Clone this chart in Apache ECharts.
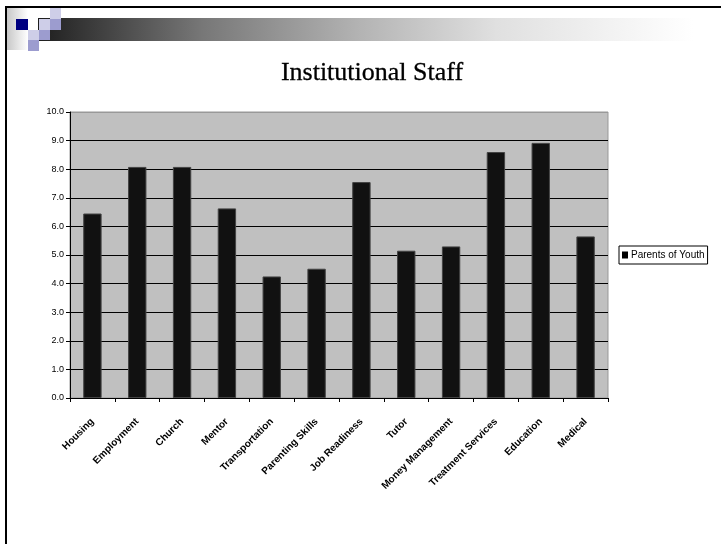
<!DOCTYPE html>
<html>
<head>
<meta charset="utf-8">
<title>Institutional Staff</title>
<script src="https://cdn.jsdelivr.net/npm/echarts@6/dist/echarts.min.js"></script>
<style>
  html, body { margin: 0; padding: 0; background: #fff; }
  #main { width: 721px; height: 544px; }
</style>
</head>
<body>
<div id="main"></div>
<script>
var categories = ['Housing', 'Employment', 'Church', 'Mentor', 'Transportation', 'Parenting Skills',
  'Job Readiness', 'Tutor', 'Money Management', 'Treatment Services', 'Education', 'Medical'];
var parentsOfYouth = [6.45, 8.08, 8.08, 6.63, 4.25, 4.52, 7.55, 5.15, 5.3, 8.6, 8.92, 5.65];
var yTicks = { min: 0, max: 10, interval: 1 };

var light = '#cecee8', medium = '#9c9ccf';

var myChart = echarts.init(document.getElementById('main'));

var option = {
  backgroundColor: '#fff',
  animation: false,
  title: {
    text: 'Institutional Staff',
    left: 367,
    textAlign: 'center',
    top: 55,
    textStyle: { fontFamily: 'Liberation Serif', fontSize: 26, fontWeight: 500, color: '#000',
      textBorderColor: '#000', textBorderWidth: 0.3 }
  },
  // slide decoration: border, gradient band and the little squares
  graphic: [
    { type: 'rect', shape: { x: 7, y: 7, width: 21, height: 43 },
      style: { fill: new echarts.graphic.LinearGradient(0, 0, 1, 0, [
        { offset: 0, color: '#c8c8c8' }, { offset: 1, color: '#ffffff' }]) } },
    { type: 'rect', shape: { x: 38, y: 18, width: 655, height: 23 },
      style: { fill: new echarts.graphic.LinearGradient(0, 0, 1, 0, [
        { offset: 0, color: '#1e1e1e' }, { offset: 0.25, color: '#777' },
        { offset: 0.49, color: '#b3b3b3' }, { offset: 0.7, color: '#e0e0e0' },
        { offset: 1, color: '#ffffff' }]) } },
    { type: 'rect', shape: { x: 16, y: 19, width: 12, height: 11 }, style: { fill: '#000080' } },
    { type: 'rect', shape: { x: 28, y: 30, width: 11, height: 10 }, style: { fill: light } },
    { type: 'rect', shape: { x: 28, y: 40, width: 11, height: 11 }, style: { fill: medium } },
    { type: 'rect', shape: { x: 39, y: 19, width: 11, height: 11 }, style: { fill: light } },
    { type: 'rect', shape: { x: 39, y: 30, width: 11, height: 10 }, style: { fill: medium } },
    { type: 'rect', shape: { x: 50, y: 7, width: 11, height: 12 }, style: { fill: light } },
    { type: 'rect', shape: { x: 50, y: 19, width: 11, height: 11 }, style: { fill: medium } },
    { type: 'rect', shape: { x: 5, y: 6, width: 716, height: 2 }, style: { fill: '#000' } },
    { type: 'rect', shape: { x: 5, y: 6, width: 2, height: 538 }, style: { fill: '#000' } }
  ],
  legend: {
    left: 619,
    top: 246,
    orient: 'vertical',
    data: ['Parents of Youth'],
    icon: 'rect',
    itemWidth: 6,
    itemHeight: 7,
    itemStyle: { borderWidth: 0, color: '#000' },
    borderColor: '#000',
    borderWidth: 1,
    padding: [4, 3, 4, 3],
    textStyle: { fontFamily: 'Liberation Sans', fontSize: 10, color: '#000', padding: [0, 0, 0, -2] }
  },
  grid: {
    left: 70,
    right: 113,
    top: 112,
    bottom: 146,
    show: true,
    backgroundColor: '#c0c0c0',
    borderColor: '#999',
    borderWidth: 1
  },
  xAxis: {
    type: 'category',
    data: categories,
    axisLine: { lineStyle: { color: '#000', width: 1 } },
    axisTick: { show: true, interval: 0, length: 4, lineStyle: { color: '#000' } },
    axisLabel: {
      interval: 0,
      rotate: 45,
      margin: 22,
      fontFamily: 'Liberation Sans',
      fontSize: 10,
      fontWeight: 'bold',
      color: '#000'
    }
  },
  yAxis: {
    type: 'value',
    min: yTicks.min,
    max: yTicks.max,
    interval: yTicks.interval,
    axisLine: { show: true, lineStyle: { color: '#000', width: 1 } },
    axisTick: { show: true, length: 4, lineStyle: { color: '#000' } },
    axisLabel: {
      margin: 6,
      fontFamily: 'Liberation Sans',
      fontSize: 9,
      color: '#000',
      formatter: function (v) { return v.toFixed(1); }
    },
    splitLine: {
      show: true,
      lineStyle: { color: ['#000', '#000', '#000', '#000', '#000', '#000', '#000', '#000', '#000', '#000', '#999'], width: 1 }
    }
  },
  series: [
    {
      name: 'Parents of Youth',
      type: 'bar',
      data: parentsOfYouth,
      barWidth: '41%',
      itemStyle: { color: '#111', borderColor: '#444', borderWidth: 1 }
    }
  ]
};

myChart.setOption(option);
</script>
</body>
</html>
